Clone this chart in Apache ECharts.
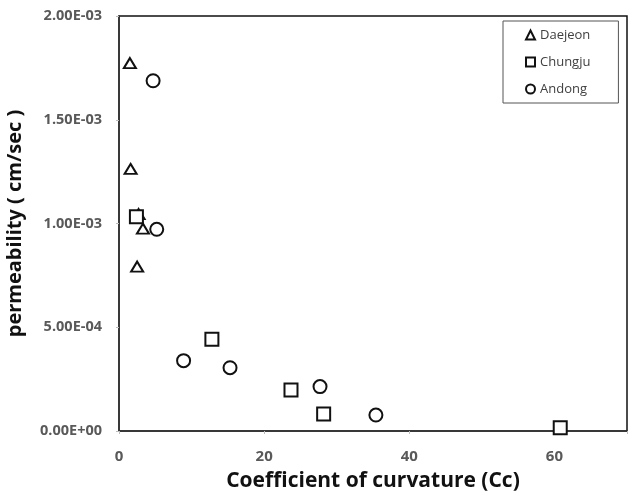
<!DOCTYPE html>
<html lang="en">
<head>
    <meta charset="UTF-8">
    <title>permeability vs Cc</title>
    <script src="https://cdn.jsdelivr.net/npm/echarts@6/dist/echarts.min.js"></script>
    <style>
        html, body {
            margin: 0;
            padding: 0;
            background: #fff;
        }
        #main {
            width: 633px;
            height: 496px;
        }
    </style>
</head>
<body>
<div id="main"></div>
<script>
    // values: [Cc, permeability cm/sec]
    var daejeon = [[1.5, 1.773e-3], [1.6, 1.263e-3], [2.7, 1.045e-3], [3.3, 0.975e-3], [2.5, 0.792e-3]];
    var chungju = [[2.4, 1.033e-3], [12.8, 0.442e-3], [23.7, 0.198e-3], [28.2, 0.082e-3], [60.8, 0.016e-3]];
    var andong = [[4.7, 1.688e-3], [5.2, 0.972e-3], [8.9, 0.339e-3], [15.3, 0.305e-3], [27.7, 0.214e-3], [35.4, 0.077e-3]];
    var seriesNames = ['Daejeon', 'Chungju', 'Andong'];
    var xTicks = [0, 20, 40, 60];

    var font = 'Open Sans';

    function expLabel(v) {
        var s = Number(v).toExponential(2).toUpperCase()
        var parts = s.split('E')
        var sign = parts[1].charAt(0)
        var num = parts[1].substring(1)
        if (num.length < 2) num = '0' + num
        return parts[0] + 'E' + sign + num
    }

    function markerSeries(name, data, symbol, size) {
        return {
            name: name,
            type: 'scatter',
            data: data,
            symbol: symbol,
            symbolSize: size,
            itemStyle: {color: '#fff', borderColor: '#111', borderWidth: 2, opacity: 1}
        }
    }

    var myChart = echarts.init(document.getElementById('main'));
    myChart.setOption({
        animation: false,
        grid: {
            left: 119, right: 6, top: 16, bottom: 65,
            containLabel: false, outerBoundsMode: 'none',
            show: true, borderColor: '#111', borderWidth: 1.5
        },
        legend: {
            orient: 'vertical',
            left: 503,
            top: 21,
            data: seriesNames,
            itemWidth: 9,
            itemHeight: 9,
            itemGap: 11,
            padding: [6, 28, 6, 22],
            borderColor: '#555',
            borderWidth: 1,
            textStyle: {fontFamily: font, fontSize: 13, lineHeight: 16, color: '#404040'}
        },
        xAxis: {
            type: 'value',
            min: 0,
            max: 70,
            interval: 20,
            name: 'Coefficient of curvature (Cc)',
            nameLocation: 'middle',
            nameGap: 40,
            nameTextStyle: {fontFamily: font, fontSize: 21, fontWeight: 'bold', color: '#111'},
            splitLine: {show: false},
            axisLine: {lineStyle: {color: '#333', width: 1.5}},
            axisTick: {inside: false, length: 3, lineStyle: {color: '#bbb'}},
            axisLabel: {
                fontFamily: font, fontSize: 15, fontWeight: 'bold', color: '#595959', margin: 18,
                formatter: function (v) {
                    return xTicks.indexOf(v) >= 0 ? String(v) : ''
                }
            }
        },
        yAxis: {
            type: 'value',
            min: 0,
            max: 2e-3,
            interval: 5e-4,
            name: 'permeability ( cm/sec )',
            nameLocation: 'middle',
            nameGap: 94,
            nameTextStyle: {fontFamily: font, fontSize: 20, fontWeight: 'bold', color: '#111'},
            splitLine: {show: false},
            axisLine: {lineStyle: {color: '#333', width: 1.5}},
            axisTick: {inside: false, length: 3, lineStyle: {color: '#bbb'}},
            axisLabel: {
                fontFamily: font, fontSize: 14.5, fontWeight: 'bold', color: '#595959', margin: 17,
                formatter: expLabel
            }
        },
        series: [
            markerSeries('Daejeon', daejeon, 'triangle', [12, 10]),
            markerSeries('Chungju', chungju, 'rect', 13),
            markerSeries('Andong', andong, 'circle', 13)
        ]
    });
</script>
</body>
</html>
